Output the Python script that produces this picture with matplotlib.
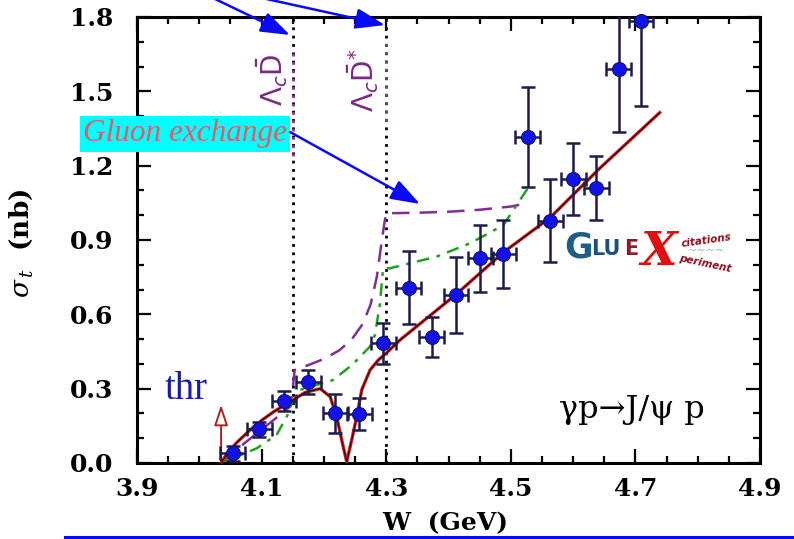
import matplotlib
matplotlib.use("Agg")
import matplotlib.pyplot as plt
from matplotlib.patches import FancyArrowPatch
from matplotlib.lines import Line2D

# ---- measured cross sections ----
w_data = [4.054, 4.096, 4.136, 4.175, 4.218, 4.257, 4.295, 4.336, 4.373,
          4.412, 4.451, 4.488, 4.527, 4.563, 4.600, 4.637, 4.673, 4.709]
sigma_data = [0.040, 0.136, 0.251, 0.328, 0.200, 0.198, 0.483, 0.707, 0.510,
              0.677, 0.826, 0.843, 1.317, 0.978, 1.146, 1.111, 1.589, 1.785]
sigma_err = [0.030, 0.031, 0.040, 0.049, 0.077, 0.064, 0.084, 0.148, 0.081,
             0.153, 0.135, 0.138, 0.202, 0.168, 0.147, 0.130, 0.255, 0.343]
w_err = [0.02] * 18

# ---- model curves ----
w_fit = [4.035, 4.045, 4.060, 4.080, 4.100, 4.120, 4.146, 4.170, 4.194,
         4.210, 4.2205, 4.2286, 4.2366, 4.2446, 4.2527, 4.2607, 4.274,
         4.2875, 4.300, 4.322, 4.412, 4.488, 4.563, 4.643, 4.739]
sigma_fit = [0.0, 0.040, 0.082, 0.130, 0.172, 0.208, 0.247, 0.285, 0.300,
             0.268, 0.187, 0.093, 0.005, 0.093, 0.187, 0.295, 0.375,
             0.416, 0.443, 0.496, 0.680, 0.850, 0.990, 1.190, 1.414]

w_gluon = [4.035, 4.060, 4.090, 4.120, 4.146, 4.150, 4.153, 4.175, 4.200,
           4.225, 4.245, 4.262, 4.275, 4.285, 4.292, 4.297, 4.300, 4.350,
           4.400, 4.450, 4.500, 4.525]
sigma_gluon = [0.0, 0.055, 0.115, 0.175, 0.228, 0.300, 0.375, 0.395, 0.420,
               0.455, 0.500, 0.560, 0.640, 0.752, 0.880, 0.967, 1.008, 1.010,
               1.014, 1.022, 1.035, 1.048]

w_mix = [4.035, 4.054, 4.092, 4.124, 4.143, 4.148, 4.162, 4.215, 4.247,
         4.274, 4.282, 4.290, 4.295, 4.306, 4.381, 4.435, 4.488, 4.525,
         4.533]
sigma_mix = [0.0, 0.019, 0.059, 0.113, 0.200, 0.240, 0.295, 0.335, 0.400,
             0.470, 0.517, 0.644, 0.786, 0.786, 0.833, 0.887, 0.960, 1.100,
             1.131]

thresholds = [4.15, 4.30]
threshold_labels = [r"$\Lambda_c\bar{\mathrm{D}}$", r"$\Lambda_c\bar{\mathrm{D}}^{*}$"]
w_thr = 4.035

x_ticks = [3.9, 4.1, 4.3, 4.5, 4.7, 4.9]
y_ticks = [0.0, 0.3, 0.6, 0.9, 1.2, 1.5, 1.8]

W, H = 794, 539


def fx(px):
    return px / W


def fy(py):
    return 1 - py / H


fig = plt.figure(figsize=(W / 100, H / 100), dpi=100)
ax = fig.add_axes([fx(137), fy(463), 623 / W, 446 / H])
ax.set_xlim(3.9, 4.9)
ax.set_ylim(0.0, 1.8)

tick_font = dict(family="DejaVu Serif", weight="bold", size=18)
ax.set_xticks(x_ticks)
ax.set_yticks(y_ticks)
ax.set_xticklabels([f"{v:.1f}" for v in x_ticks], fontdict=tick_font)
ax.set_yticklabels([f"{v:.1f}" for v in y_ticks], fontdict=tick_font)
ax.set_xticks([3.9 + 0.05 * i for i in range(21)], minor=True)
ax.set_yticks([0.1 * i for i in range(19)], minor=True)
ax.tick_params(which="both", direction="in", top=True, right=True, width=1.6)
ax.tick_params(which="major", length=10)
ax.tick_params(which="minor", length=5)
ax.tick_params(axis="x", which="major", pad=10)
ax.tick_params(axis="y", which="major", pad=17)
for s in ax.spines.values():
    s.set_linewidth(2.2)

# threshold markers
for wt in thresholds:
    ax.axvline(wt, color="black", lw=2.0, ls=(0, (1, 2.0)), zorder=1)
ax.plot([4.15, 4.15], [1.24, 1.67], color="#8a3a92", lw=2.0, ls=(0, (1, 2.0)), zorder=1.5)
ax.plot([4.30, 4.30], [1.38, 1.70], color="#8a3a92", lw=2.0, ls=(0, (1, 2.0)), zorder=1.5)
ax.text(4.117, 1.545, threshold_labels[0], rotation=90, ha="center", va="center",
        color="#7a2a82", fontsize=20, math_fontfamily="dejavusans")
ax.text(4.263, 1.545, threshold_labels[1], rotation=90, ha="center", va="center",
        color="#7a2a82", fontsize=20, math_fontfamily="dejavusans")

# model curves
ax.plot(w_gluon, sigma_gluon, color="#7f2f8f", lw=1.8, ls=(0, (7, 4)), zorder=2)
ax.plot(w_mix, sigma_mix, color="#22a022", lw=1.8, ls=(0, (5, 3, 1.5, 3)), zorder=2)
ax.plot(w_fit, sigma_fit, color="#d42020", lw=2.4, zorder=3)
ax.plot(w_fit, sigma_fit, color="#1a0505", lw=0.8, zorder=3.1)

# data
ax.errorbar(w_data, sigma_data, xerr=w_err, yerr=sigma_err, fmt="none",
            ecolor="#1c1c4a", elinewidth=1.8, capsize=5, capthick=1.8, zorder=4)
ax.plot(w_data, sigma_data, "o", ms=10, mfc="#1212e6", mec="#101070", mew=0.8,
        zorder=5, clip_on=False)

# threshold arrow
ax.annotate("", xy=(w_thr, 0.235), xytext=(w_thr, 0.0),
            arrowprops=dict(arrowstyle="-|>,head_length=0.9,head_width=0.3",
                            color="#b02020", lw=1.4, fc="white", shrinkA=0, shrinkB=0,
                            mutation_scale=14),
            zorder=3)
ax.text(3.944, 0.295, "thr", color="#1a1aa8", fontsize=28, family="Liberation Serif",
        ha="left", va="center")
ax.text(4.578, 0.215, "γp→J/ψ p", color="black", fontsize=23, family="DejaVu Serif",
        ha="left", va="center")

ax.set_ylabel(r"$\sigma_{\,t}$  (nb)", fontsize=19, family="DejaVu Serif", weight="bold",
              math_fontfamily="dejavuserif")
ax.yaxis.set_label_coords((35 - 137) / 623, (463 - 243) / 446)
ax.set_xlabel("W  (GeV)", fontsize=18, family="DejaVu Serif", weight="bold", va="center")
ax.xaxis.set_label_coords((445 - 137) / 623, (463 - 523) / 446)

# GlueX logo
fig.text(fx(564), fy(247), "G", fontsize=25, weight="bold", family="DejaVu Sans",
         color="#1d5f86", va="center", ha="left")
fig.text(fx(591), fy(249), "LU", fontsize=15, weight="bold", family="DejaVu Sans",
         color="#1d4f7c", va="center", ha="left")
fig.text(fx(624), fy(249), "E", fontsize=15, weight="bold", family="DejaVu Sans",
         color="#8c1c2c", va="center", ha="left")
fig.text(fx(640), fy(252), "X", fontsize=34, weight="bold", style="italic",
         family="DejaVu Serif", color="#dd1111", va="center", ha="left")
fig.text(fx(680), fy(240), "citations", fontsize=7.5, weight="bold", style="italic",
         family="DejaVu Sans", color="#8a1020", va="center", ha="left", rotation=8)
fig.text(fx(678), fy(264), "periment", fontsize=7.5, weight="bold", style="italic",
         family="DejaVu Sans", color="#8a1020", va="center", ha="left", rotation=-12)
fig.text(fx(688), fy(251), "~~~~", fontsize=8, color="#7fbf9f", va="center", ha="left")

# annotations around the frame
blue = "#0a0af5"
fig.text(fx(83), fy(134), "Gluon exchange", fontsize=22.5, style="italic",
         family="Liberation Serif", color="#e65a64", va="center", ha="left",
         bbox=dict(boxstyle="square,pad=0.1", fc="#00ffff", ec="none"), zorder=10)
for p0, p1 in [((213, -2), (290, 35)), ((262, -2), (385, 25)), ((290, 132), (420, 204))]:
    fig.add_artist(FancyArrowPatch((fx(p0[0]), fy(p0[1])), (fx(p1[0]), fy(p1[1])),
                                   transform=fig.transFigure,
                                   arrowstyle="-|>,head_length=1.0,head_width=0.35",
                                   mutation_scale=18, color=blue, lw=1.8,
                                   shrinkA=0, shrinkB=0, zorder=11))
fig.add_artist(Line2D([fx(65), fx(794)], [fy(536.5), fy(536.5)], transform=fig.transFigure,
                      color=blue, lw=2.2, zorder=11))

fig.savefig("out.png", dpi=100)
